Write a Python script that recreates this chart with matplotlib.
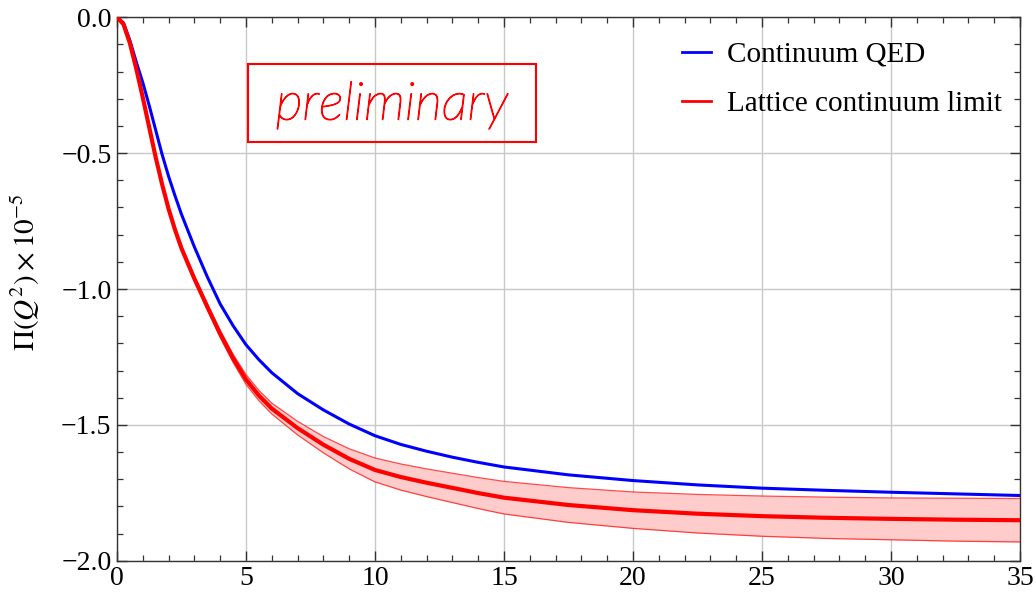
import matplotlib
matplotlib.use("Agg")
import numpy as np
import matplotlib.pyplot as plt
import matplotlib.patheffects as pe
from matplotlib.patches import Rectangle
from matplotlib.ticker import MultipleLocator, FuncFormatter

# momentum grid (Q^2) shared by both curves
q2 = [0, 0.25, 0.5, 0.75, 1.0, 1.25, 1.5, 1.75, 2.0, 2.25, 2.5, 3.0, 3.5, 4.0, 4.5,
      5.0, 5.5, 6.0, 7.0, 8.0, 9.0, 10.0, 11.0, 12.0, 13.0, 14.0, 15.0, 17.5, 20.0,
      22.5, 25.0, 27.5, 30.0, 32.5, 35.0]

# Continuum QED vacuum polarisation
qed_pi = [0, -0.02, -0.085, -0.165, -0.24, -0.325, -0.415, -0.505, -0.585, -0.657,
          -0.725, -0.845, -0.955, -1.055, -1.135, -1.205, -1.26, -1.308, -1.385, -1.445,
          -1.497, -1.54, -1.572, -1.597, -1.619, -1.638, -1.655, -1.684, -1.705, -1.721,
          -1.733, -1.741, -1.748, -1.754, -1.76]

# Lattice continuum limit and its uncertainty
lat_pi = [0, -0.025, -0.095, -0.19, -0.295, -0.405, -0.515, -0.615, -0.705, -0.782,
          -0.85, -0.962, -1.065, -1.165, -1.255, -1.333, -1.392, -1.44, -1.512, -1.573,
          -1.625, -1.666, -1.692, -1.713, -1.732, -1.751, -1.768, -1.795, -1.814, -1.827,
          -1.836, -1.842, -1.846, -1.849, -1.851]
lat_err = [0, 0, 0.001, 0.002, 0.003, 0.003, 0.004, 0.005, 0.006, 0.006,
           0.007, 0.009, 0.011, 0.013, 0.015, 0.018, 0.019, 0.02, 0.025, 0.03,
           0.037, 0.044, 0.048, 0.051, 0.054, 0.057, 0.06, 0.064, 0.067, 0.071,
           0.074, 0.076, 0.077, 0.079, 0.08]

plt.rcParams["font.family"] = ["Liberation Serif", "DejaVu Serif"]
plt.rcParams["mathtext.fontset"] = "stix"

lat_hi = np.array(lat_pi) + np.array(lat_err)
lat_lo = np.array(lat_pi) - np.array(lat_err)

fig = plt.figure(figsize=(10.36, 5.96), dpi=100)
ax = fig.add_axes([0.1129, 0.0592, 0.8717, 0.9118])

ax.fill_between(q2, lat_lo, lat_hi, color=(1.0, 0.8, 0.8), lw=0, zorder=2)
ax.plot(q2, lat_hi, color="red", lw=0.9, alpha=0.7, zorder=3)
ax.plot(q2, lat_lo, color="red", lw=0.9, alpha=0.7, zorder=3)
ax.plot(q2, qed_pi, color="blue", lw=2.2, zorder=4, label="Continuum QED")
ax.plot(q2, lat_pi, color="red", lw=3.0, zorder=5, label="Lattice continuum limit")

ax.set_xlim(0, 35)
ax.set_ylim(-2.0, 0.0)
ax.xaxis.set_major_locator(MultipleLocator(5))
ax.xaxis.set_minor_locator(MultipleLocator(1))
ax.yaxis.set_major_locator(MultipleLocator(0.5))
ax.yaxis.set_minor_locator(MultipleLocator(0.1))
ax.yaxis.set_major_formatter(
    FuncFormatter(lambda v, p: "0.0" if abs(v) < 1e-9 else f"{v:.1f}".replace("-", "\u2212")))
ax.tick_params(which="both", direction="in", top=True, right=True, color="#333333")
ax.tick_params(which="major", length=7, width=1.0, labelsize=20, pad=4)
ax.tick_params(which="minor", length=4, width=0.9)
ax.grid(True, which="major", color="#c8c8c8", lw=1.0)
ax.set_axisbelow(True)
for s in ax.spines.values():
    s.set_color("#333333")
    s.set_linewidth(1.0)

ax.set_ylabel(r"$\Pi(Q^2)\times10^{-5}$", fontsize=21)
ax.yaxis.set_label_coords(-0.083, 0.53)

leg = ax.legend(loc="upper right", bbox_to_anchor=(1.004, 0.996), frameon=False,
                fontsize=21, handlelength=1.0, handletextpad=0.55, labelspacing=0.8,
                borderaxespad=0.35)
for h in leg.get_lines():
    h.set_linewidth(2.0)

# watermark box
ax.add_patch(Rectangle((0.1455, 0.770), 0.318, 0.1435, transform=ax.transAxes,
                       fill=False, edgecolor="red", lw=1.5, zorder=6))
ax.text(0.3045, 0.838, "preliminary", transform=ax.transAxes, color="red",
        fontsize=38, family="Lato", style="italic", weight="light",
        ha="center", va="center", zorder=7,
        path_effects=[pe.withStroke(linewidth=0.9, foreground="red")])

fig.savefig("out.png", dpi=100)
